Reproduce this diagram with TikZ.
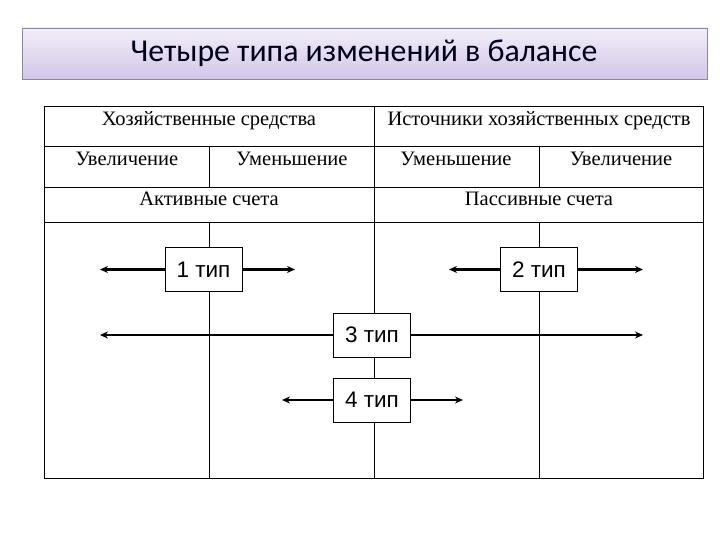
\documentclass[tikz,border=0pt]{standalone}
\usepackage{fontspec}
\setmainfont{Liberation Serif}
\newfontfamily\titlefont{Carlito}
\newfontfamily\typfont{Liberation Sans}
\usetikzlibrary{arrows.meta}

\definecolor{lilactop}{RGB}{242,238,248}
\definecolor{lilacbot}{RGB}{210,198,232}
\definecolor{lilacrim}{RGB}{140,136,156}

\begin{document}
\begin{tikzpicture}[x=1pt,y=-1pt]
    \tikzstyle{cell}=[anchor=base,inner sep=0pt,font=\fontsize{20.5}{22}\selectfont]
    \tikzstyle{typ}=[draw,fill=white,minimum width=77pt,minimum height=44pt,inner sep=0pt,font=\typfont\fontsize{22.5}{24}\selectfont]
    \tikzstyle{thick arr}=[line width=2.2pt,-{Stealth[length=8pt,width=7pt]}]
    \tikzstyle{thin arr}=[line width=1.1pt,-{Stealth[length=8pt,width=7pt]}]
    \useasboundingbox (0,0) rectangle (720,540);
    \shade[top color=lilactop,bottom color=lilacbot,draw=lilacrim] (22,28) rectangle (707,79);
    \node[font=\titlefont\fontsize{31.8}{34}\selectfont,text=black!90!blue] (title) at (364,53) {Четыре типа изменений в балансе};
    % table grid
    \draw[line width=0.9pt] (44,106) rectangle (703,478);
    \foreach \y in {146,187,222} \draw[line width=0.9pt] (44,\y) -- (703,\y);
    \draw[line width=0.9pt] (374,106) -- (374,478);
    \foreach \x in {209,539} \draw[line width=0.9pt] (\x,146) -- (\x,187) (\x,222) -- (\x,478);
    \node[cell] (hs) at (209,126) {Хозяйственные средства};
    \node[cell] (ihs) at (539,126) {Источники хозяйственных средств};
    \node[cell] (uv1) at (127,166) {Увеличение};
    \node[cell] (um1) at (292,166) {Уменьшение};
    \node[cell] (um2) at (456,166) {Уменьшение};
    \node[cell] (uv2) at (621,166) {Увеличение};
    \node[cell] (akt) at (209,206) {Активные счета};
    \node[cell] (pas) at (539,206) {Пассивные счета};
    % types
    \node[typ] (t_1) at (203.5,269.5) {1 тип};
    \node[typ] (t_2) at (539,269.5) {2 тип};
    \node[typ] (t_3) at (372,335) {3 тип};
    \node[typ] (t_4) at (372,400) {4 тип};
    \coordinate (l_1) at (100,269.5);
    \coordinate (r_1) at (295,269.5);
    \coordinate (l_2) at (449,269.5);
    \coordinate (r_2) at (643,269.5);
    \coordinate (l_3) at (100,335);
    \coordinate (r_3) at (643,335);
    \coordinate (l_4) at (282,400);
    \coordinate (r_4) at (463,400);
    \draw[thick arr] (t_1) -- (l_1);
    \draw[thick arr] (t_1) -- (r_1);
    \draw[thick arr] (t_2) -- (l_2);
    \draw[thick arr] (t_2) -- (r_2);
    \draw[thin arr] (t_3) -- (l_3);
    \draw[thin arr] (t_3) -- (r_3);
    \draw[thick arr] (t_4) -- (l_4);
    \draw[thick arr] (t_4) -- (r_4);
\end{tikzpicture}
\end{document}
